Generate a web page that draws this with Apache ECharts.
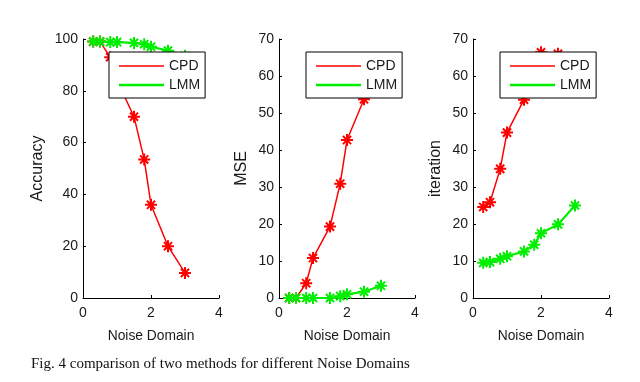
<!DOCTYPE html>
<html><head><meta charset="utf-8">
<script src="https://cdn.jsdelivr.net/npm/echarts@6/dist/echarts.min.js"></script>
<style>html,body{margin:0;padding:0;background:#fff}#c{width:640px;height:382px}</style>
</head><body><div id="c"></div>
<script>
const noise = [0.3, 0.5, 0.8, 1.0, 1.5, 1.8, 2.0, 2.5, 3.0];
const accCPD = [99, 99, 93, 84, 70, 53.5, 36, 20, 9.7];
const accLMM = [99, 99, 98.8, 98.8, 98.5, 98, 97, 95.5, 93.5];
const mseCPD = [0, 0, 4, 10.8, 19.3, 30.9, 42.7, 53.7, 62];
const mseLMM = [0, 0, 0, 0, 0, 0.5, 1, 1.7, 3.3];
const itX = [0.3, 0.5, 0.8, 1.0, 1.5, 2.0, 2.5, 3.0];
const itCPD = [24.6, 25.9, 34.9, 44.7, 53.6, 66.4, 66, 63];
const itLMM = [9.5, 9.7, 10.6, 11.3, 12.6, 14.4, 17.5, 19.9, 25];
const xTicks = [0, 2, 4];
const yNames = ['Accuracy', 'MSE', 'iteration'];
const caption = 'Fig. 4 comparison of two methods for different Noise Domains';

const pair = (xs, ys) => xs.map((x, i) => [x, ys[i]]);
const star = 'path://M5,0V10M0,5H10M1.6,1.6L8.4,8.4M1.6,8.4L8.4,1.6';
const font = 'Liberation Sans';
const txt = '#1a1a1a';
const lefts = [83, 279, 473];
const gaps = [37, 29, 29];
const yMax = [100, 70, 70];
const yInt = [20, 10, 10];

const grid = lefts.map(l => ({left: l, top: 39, width: 136, height: 259}));
const xAxis = lefts.map((l, i) => ({
  gridIndex: i, type: 'value', min: 0, max: 4, interval: 2,
  name: 'Noise Domain', nameLocation: 'middle', nameGap: 31,
  nameTextStyle: {fontFamily: font, fontSize: 13.8, color: txt},
  axisLine: {lineStyle: {color: '#000', width: 1}},
  axisTick: {inside: true, length: 3, lineStyle: {color: '#000'}},
  axisLabel: {fontFamily: font, fontSize: 14, color: txt, margin: 8,
    formatter: v => xTicks.includes(v) ? String(v) : ''},
  splitLine: {show: false}
}));
const yAxis = lefts.map((l, i) => ({
  gridIndex: i, type: 'value', min: 0, max: yMax[i], interval: yInt[i],
  name: yNames[i], nameLocation: 'middle', nameGap: gaps[i],
  nameTextStyle: {fontFamily: font, fontSize: 16, color: txt},
  axisLine: {show: true, lineStyle: {color: '#000', width: 1}},
  axisTick: {show: true, inside: true, length: 3, lineStyle: {color: '#000'}},
  axisLabel: {fontFamily: font, fontSize: 14, color: txt, margin: 5},
  splitLine: {show: false}
}));

function mk(name, data, i, color, w) {
  return {
    name, type: 'line', xAxisIndex: i, yAxisIndex: i, data,
    symbol: star, symbolSize: 12, symbolKeepAspect: true,
    lineStyle: {color, width: w},
    itemStyle: {color, borderColor: color, borderWidth: 2},
    emphasis: {disabled: true}, animation: false
  };
}
const series = [
  mk('CPD', pair(noise, accCPD), 0, '#ff0000', 1.5),
  mk('LMM', pair(noise, accLMM), 0, '#00ee00', 2.2),
  mk('CPD', pair(noise, mseCPD), 1, '#ff0000', 1.5),
  mk('LMM', pair(noise, mseLMM), 1, '#00ee00', 2.2),
  mk('CPD', pair(itX, itCPD), 2, '#ff0000', 1.5),
  mk('LMM', pair(noise, itLMM), 2, '#00ee00', 2.2)
];
const legLeft = [109, 306, 500];
const legend = legLeft.map(l => ({
  left: l, top: 52, orient: 'vertical',
  padding: [7, 5, 6, 10], itemGap: 5, itemWidth: 45, itemHeight: 13,
  borderColor: '#000', borderWidth: 1, backgroundColor: '#fff',
  selectedMode: false,
  textStyle: {fontFamily: font, fontSize: 14, color: txt},
  itemStyle: {borderWidth: 0},
  data: [
    {name: 'CPD', icon: 'path://M0,0h45v1.5h-45z'},
    {name: 'LMM', icon: 'path://M0,0h45v2.4h-45z'}
  ]
}));
const chart = echarts.init(document.getElementById('c'));
chart.setOption({
  backgroundColor: '#fff', animation: false,
  title: {text: caption, left: 26, top: 352,
    textStyle: {fontFamily: 'Liberation Serif', fontSize: 15, fontWeight: 'normal', color: '#111'}},
  grid, xAxis, yAxis, legend, series
});
</script></body></html>
